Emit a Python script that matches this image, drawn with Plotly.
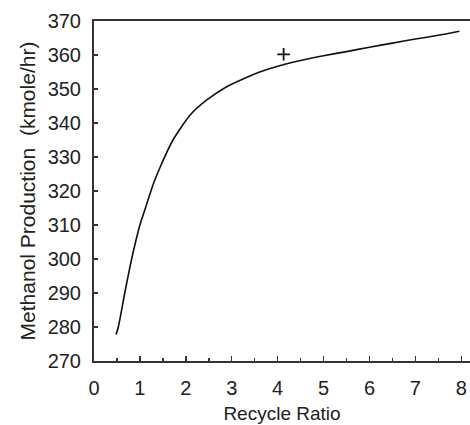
import plotly.graph_objects as go

# Curve data
recycle_ratio = [0.48, 0.53, 0.67, 0.82, 1.0, 1.13, 1.29, 1.44, 1.72, 2.09, 2.45, 2.88,
                 3.32, 3.61, 4.0, 4.5, 5.0, 5.5, 6.0, 6.5, 7.0, 7.5, 7.96]
methanol = [277.8, 280.0, 290.0, 300.0, 310.0, 315.4, 322.0, 327.0, 335.0, 342.3, 346.7, 350.6,
            353.4, 355.0, 356.7, 358.4, 359.8, 361.0, 362.3, 363.5, 364.7, 365.8, 367.0]

# Single marked point
mark_x = [4.13]
mark_y = [360.2]

x_ticks = [0, 1, 2, 3, 4, 5, 6, 7, 8]
y_ticks = [270, 280, 290, 300, 310, 320, 330, 340, 350, 360, 370]

FONT = "Liberation Sans, Arial, sans-serif"
TXT = "#222222"
AX = "#333333"

fig = go.Figure()
fig.add_trace(go.Scatter(x=recycle_ratio, y=methanol, mode="lines",
                         line=dict(color="#111111", width=1.6, shape="spline", smoothing=0.6),
                         showlegend=False, hoverinfo="skip"))
fig.add_trace(go.Scatter(x=mark_x, y=mark_y, mode="markers",
                         marker=dict(symbol="cross-thin", size=9,
                                     line=dict(color="#111111", width=1.8)),
                         showlegend=False, hoverinfo="skip"))

fig.update_layout(
    width=470, height=425,
    margin=dict(l=94, r=0, t=21, b=64),
    paper_bgcolor="white", plot_bgcolor="white",
    font=dict(family=FONT, size=19, color=TXT),
)
fig.update_xaxes(
    range=[0, 8.19], tickvals=x_ticks, ticktext=[str(v) for v in x_ticks],
    ticks="inside", ticklen=5, tickwidth=1.5, tickcolor=AX,
    minor=dict(dtick=0.5, tick0=0, ticks="inside", ticklen=3, tickwidth=1.5, tickcolor=AX),
    showline=True, linewidth=2, linecolor=AX, mirror=True,
    showgrid=False, zeroline=False,
    tickfont=dict(family=FONT, size=20, color=TXT),
    ticklabelstandoff=8,
    title=dict(text="Recycle Ratio", font=dict(family=FONT, size=19, color=TXT), standoff=9),
)
fig.update_yaxes(
    range=[270, 370], tickvals=y_ticks, ticktext=[str(v) for v in y_ticks],
    ticks="inside", ticklen=4, tickwidth=1.5, tickcolor=AX,
    showline=True, linewidth=2, linecolor=AX,
    showgrid=False, zeroline=False,
    tickfont=dict(family=FONT, size=20, color=TXT),
    ticklabelstandoff=7,
    title=dict(text="Methanol Production  (kmole/hr)", font=dict(family=FONT, size=21, color=TXT), standoff=6),
)

# remove the page's default body margin so the figure fills the window exactly
fig.write_html("out.html",
               config={"displayModeBar": False, "staticPlot": True},
               post_script="document.body.style.margin='0';document.body.style.overflow='hidden';")
